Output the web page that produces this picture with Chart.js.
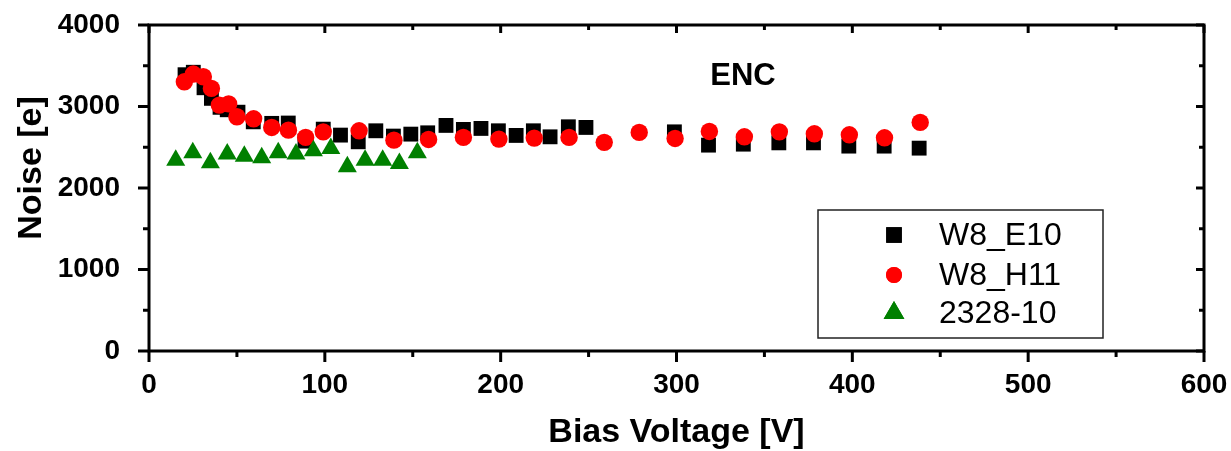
<!DOCTYPE html>
<html><head><meta charset="utf-8">
<script src="https://cdn.jsdelivr.net/npm/chart.js@4.4.0/dist/chart.umd.min.js"></script>
<style>html,body{margin:0;padding:0;background:#fff;}#wrap{width:1231px;height:451px;}</style>
</head><body><div id="wrap"><canvas id="c" width="1231" height="451"></canvas></div>
<script>
const seriesNames = ['W8_E10', 'W8_H11', '2328-10'];
const e10Voltage = [20.5, 25.2, 31.3, 35.5, 40.4, 44.5, 50.6, 59.3, 69.8, 79.2, 88.7, 99.1, 108.9, 119, 129, 139, 148.9, 158.5, 168.9, 178.8, 188.8, 198.7, 208.8, 218.6, 228.1, 238.5, 248.5, 298.8, 318.2, 338, 358.2, 377.9, 398, 418.1, 438];
const e10Noise = [3390, 3420, 3230, 3100, 2990, 2960, 2930, 2812, 2793, 2797, 2575, 2722, 2649, 2567, 2702, 2637, 2661, 2677, 2768, 2719, 2731, 2702, 2645, 2702, 2628, 2751, 2743, 2689, 2526, 2538, 2554, 2554, 2514, 2514, 2489];
const h11Voltage = [20.1, 25.2, 30.9, 35.5, 40, 45.3, 50, 59.5, 69.8, 79.3, 89.1, 99.1, 119.5, 139.3, 159, 178.8, 199, 219.1, 238.9, 258.9, 278.8, 299.2, 318.7, 338.6, 358.5, 378.4, 398.3, 418.3, 438.6];
const h11Noise = [3303, 3398, 3365, 3222, 3017, 3032, 2874, 2849, 2743, 2710, 2621, 2689, 2702, 2587, 2596, 2621, 2600, 2612, 2621, 2560, 2682, 2608, 2694, 2628, 2689, 2665, 2653, 2616, 2805];
const s2328Voltage = [15.2, 24.9, 34.9, 44.5, 54.2, 64.1, 73.5, 83.6, 93.5, 103.4, 112.8, 122.9, 132.9, 142.4, 152.6];
const s2328Noise = [2342, 2432, 2309, 2416, 2391, 2370, 2432, 2416, 2456, 2486, 2260, 2342, 2342, 2301, 2432];
const xMajorTicks = [0, 100, 200, 300, 400, 500, 600];
const xMinorTicks = [50, 150, 250, 350, 450, 550];
const yMajorTicks = [0, 1000, 2000, 3000, 4000];
const yMinorTicks = [500, 1500, 2500, 3500];
const xTitle = 'Bias Voltage [V]';
const yTitle = 'Noise [e]';
const panelLabel = 'ENC';

const FONT = 'Arial, "Liberation Sans", Helvetica, sans-serif';
const pts = (xs, ys) => xs.map((v, i) => ({x: v, y: ys[i]}));

const framePlugin = {
  id: 'frame',
  afterDraw(chart) {
    const {ctx, chartArea: a, scales: {x, y}} = chart;
    ctx.save();
    ctx.strokeStyle = '#000';
    ctx.lineWidth = 3;
    ctx.strokeRect(a.left, a.top, a.right - a.left, a.bottom - a.top);
    const seg = (x1, y1, x2, y2) => { ctx.beginPath(); ctx.moveTo(x1, y1); ctx.lineTo(x2, y2); ctx.stroke(); };
    xMajorTicks.forEach(v => { const p = x.getPixelForValue(v); seg(p, a.bottom, p, a.bottom + 11); seg(p, a.top, p, a.top + 8); });
    xMinorTicks.forEach(v => { const p = x.getPixelForValue(v); seg(p, a.bottom, p, a.bottom + 6); seg(p, a.top, p, a.top + 5); });
    yMajorTicks.forEach(v => { const p = y.getPixelForValue(v); seg(a.left - 11, p, a.left, p); seg(a.right - 8, p, a.right, p); });
    yMinorTicks.forEach(v => { const p = y.getPixelForValue(v); seg(a.left - 6, p, a.left, p); seg(a.right - 5, p, a.right, p); });

    ctx.fillStyle = '#000';
    ctx.textAlign = 'center';
    ctx.textBaseline = 'middle';
    ctx.font = 'bold 34px ' + FONT;
    ctx.fillText(xTitle, (a.left + a.right) / 2, a.bottom + 82);
    ctx.save();
    ctx.translate(32, a.top + 143);
    ctx.rotate(-Math.PI / 2);
    ctx.fillText(yTitle, 0, 0);
    ctx.restore();
    ctx.font = 'bold 31px ' + FONT;
    ctx.fillText(panelLabel, a.left + 594, a.top + 51);

    // legend
    const lx = a.left + 669, ly = a.top + 185, lw = 285, lh = 128;
    ctx.lineWidth = 1.5;
    ctx.strokeStyle = '#222';
    ctx.strokeRect(lx, ly, lw, lh);
    ctx.textAlign = 'left';
    ctx.font = '32px ' + FONT;
    const rows = [ly + 25, ly + 65, ly + 103];
    chart.data.datasets.forEach((ds, i) => {
      ctx.fillStyle = ds.backgroundColor;
      Chart.helpers.drawPoint(ctx, {pointStyle: ds.pointStyle, radius: ds.legendRadius, borderWidth: 0, rotation: 0}, lx + 76, rows[i]);
      ctx.fill();
      ctx.fillStyle = '#000';
      ctx.fillText(ds.label, lx + 121, rows[i] + 1);
    });
    ctx.restore();
  }
};

new Chart(document.getElementById('c'), {
  type: 'scatter',
  data: {
    datasets: [
      {label: seriesNames[0], data: pts(e10Voltage, e10Noise), pointStyle: 'rect', pointRadius: 10.5, backgroundColor: '#000000', borderColor: '#000000', borderWidth: 0, order: 2, legendRadius: 11},
      {label: seriesNames[1], data: pts(h11Voltage, h11Noise), pointStyle: 'circle', pointRadius: 8.7, backgroundColor: '#ff0000', borderColor: '#ff0000', borderWidth: 0, order: 1, legendRadius: 8},
      {label: seriesNames[2], data: pts(s2328Voltage, s2328Noise), pointStyle: 'triangle', pointRadius: 11, backgroundColor: '#008000', borderColor: '#008000', borderWidth: 0, order: 0, legendRadius: 12}
    ]
  },
  options: {
    responsive: false,
    animation: false,
    devicePixelRatio: 1,
    layout: {padding: {left: 0, top: 25, right: 27, bottom: 0}},
    plugins: {legend: {display: false}, tooltip: {enabled: false}},
    elements: {point: {hoverRadius: 0}},
    scales: {
      x: {
        type: 'linear', min: 0, max: 600,
        afterFit: s => { s.height = 100; s.paddingLeft = 0; s.paddingRight = 0; },
        afterBuildTicks: s => { s.ticks = xMajorTicks.map(v => ({value: v})); },
        grid: {display: false}, border: {display: false},
        ticks: {color: '#000', font: {family: FONT, size: 28, weight: 'bold'}, padding: 9, maxRotation: 0, callback: v => String(v)}
      },
      y: {
        type: 'linear', min: 0, max: 4000,
        afterFit: s => { s.width = 149; s.paddingTop = 0; s.paddingBottom = 0; },
        afterBuildTicks: s => { s.ticks = yMajorTicks.map(v => ({value: v})); },
        grid: {display: false}, border: {display: false},
        ticks: {color: '#000', font: {family: FONT, size: 28, weight: 'bold'}, padding: 21, callback: v => String(v)}
      }
    }
  },
  plugins: [framePlugin]
});
</script></body></html>
